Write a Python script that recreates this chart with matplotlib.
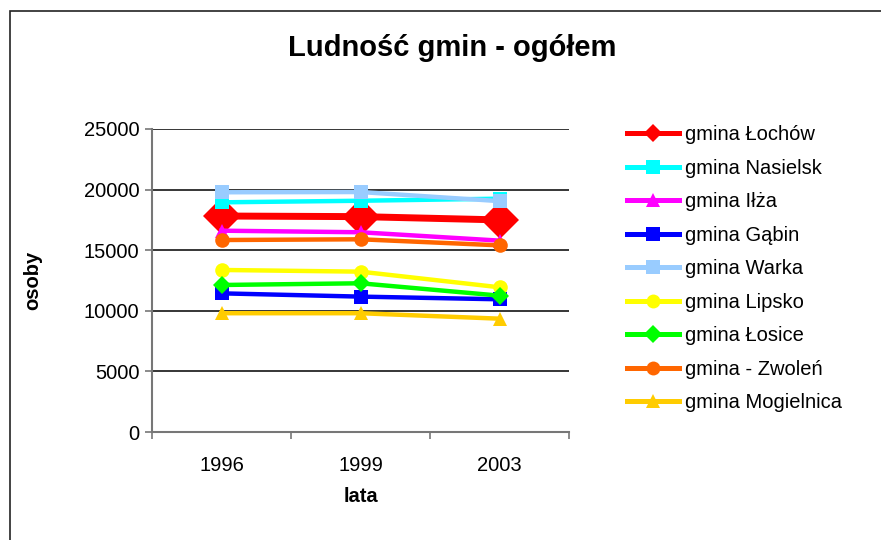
import matplotlib.pyplot as plt
from matplotlib.lines import Line2D
from matplotlib.patches import Rectangle

plt.rcParams['font.family'] = ['Liberation Sans', 'DejaVu Sans']

years = ['1996', '1999', '2003']
names = ['gmina Łochów', 'gmina Nasielsk', 'gmina Iłża', 'gmina Gąbin', 'gmina Warka',
         'gmina Lipsko', 'gmina Łosice', 'gmina - Zwoleń', 'gmina Mogielnica']
lochow = [17820, 17770, 17500]
nasielsk = [18950, 19080, 19250]
ilza = [16610, 16480, 15790]
gabin = [11440, 11170, 10950]
warka = [19780, 19800, 19050]
lipsko = [13370, 13230, 11940]
losice = [12130, 12270, 11250]
zwolen = [15840, 15900, 15400]
mogielnica = [9800, 9800, 9350]
series = [lochow, nasielsk, ilza, gabin, warka, lipsko, losice, zwolen, mogielnica]

colors = ['#FF0000', '#00FFFF', '#FF00FF', '#0000FF', '#99CCFF',
          '#FFFF00', '#00FF00', '#FF6600', '#FFCC00']
markers = ['D', 's', '^', 's', 's', 'o', 'D', 'o', '^']

fig = plt.figure(figsize=(8.81, 5.4), dpi=100)
ax = fig.add_axes([152/881, 1 - 432/540, 417/881, 303/540])

x = range(len(years))
handles = []
for i, vals in enumerate(series):
    if i == 0:
        lw, ms = 5, 19
    else:
        lw, ms = 3.2, 10.5 if markers[i] != 'D' else 9.5
    ax.plot(x, vals, color=colors[i], lw=lw, marker=markers[i], ms=ms,
            markeredgewidth=0, solid_joinstyle='miter', zorder=3)
    handles.append(Line2D([0], [0], color=colors[i], lw=3.6, marker=markers[i],
                          ms=10 if markers[i] != 'D' else 9, markeredgewidth=0))

ax.set_xlim(-0.5, 2.5)
ax.set_ylim(0, 25000)
ax.set_yticks(range(0, 25001, 5000))
ax.set_xticks(list(x))
ax.set_xticklabels(years)
ax.set_xticks([-0.5, 0.5, 1.5, 2.5], minor=True)
ax.tick_params(axis='x', which='major', length=0, pad=17, labelsize=14.5)
ax.tick_params(axis='x', which='minor', length=5, color='#777777', width=1.2)
ax.tick_params(axis='y', length=5, color='#777777', width=1.2, labelsize=14.5, pad=4)
ax.yaxis.grid(True, color='black', lw=1.1)
ax.set_axisbelow(True)
for s in ['top', 'right']:
    ax.spines[s].set_visible(False)
for s in ['left', 'bottom']:
    ax.spines[s].set_color('#777777')
    ax.spines[s].set_linewidth(1.5)

ax.set_xlabel('lata', fontsize=14.5, fontweight='bold', labelpad=9)
ax.set_ylabel('osoby', fontsize=14.5, fontweight='bold', labelpad=30)
fig.text(452/881, 1 - 48/540, 'Ludność gmin - ogółem', fontsize=21, fontweight='bold',
         ha='center', va='center')

fig.legend(handles, names, loc='upper left', bbox_to_anchor=(619/881, 1 - 117/540),
           frameon=False, fontsize=14.5, handlelength=2.6, handletextpad=0.3,
           labelspacing=0.72, borderaxespad=0)

fig.patches.append(Rectangle((10/881, -0.05), 1.0, 1.05 - 11/540, transform=fig.transFigure,
                             fill=False, edgecolor='#222222', lw=1.2))

fig.savefig('out.png', dpi=100)
